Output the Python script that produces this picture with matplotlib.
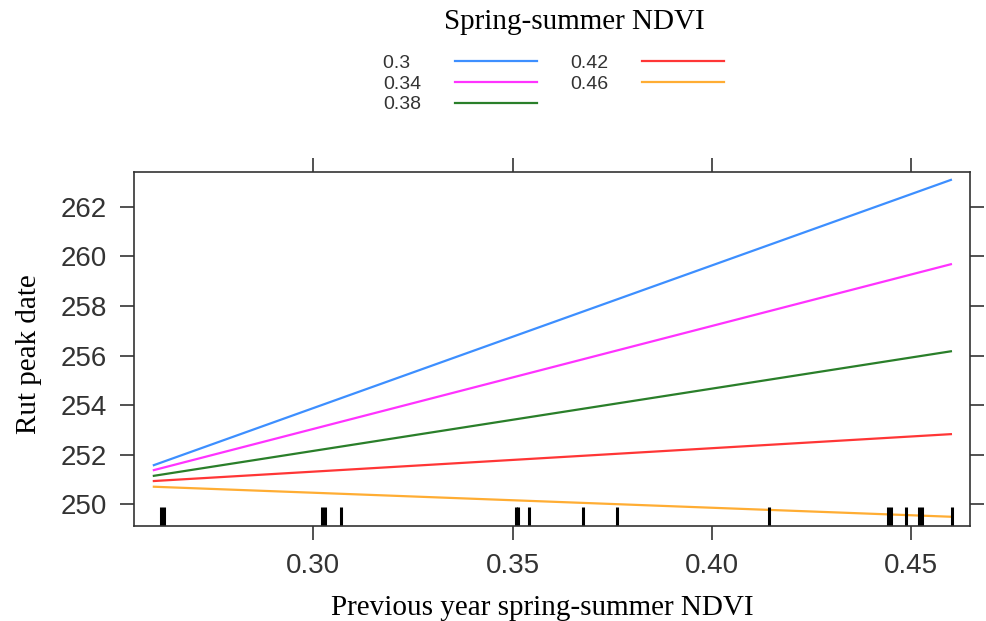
import matplotlib
matplotlib.use("Agg")
import matplotlib.pyplot as plt

# previous year spring-summer NDVI range covered by the fitted lines
prev_ndvi = [0.26, 0.46]

# spring-summer NDVI levels and fitted rut peak date at both ends
ndvi_levels = ["0.3", "0.34", "0.38", "0.42", "0.46"]
peak_0_30 = [251.58, 263.08]
peak_0_34 = [251.38, 259.68]
peak_0_38 = [251.15, 256.17]
peak_0_42 = [250.94, 252.83]
peak_0_46 = [250.71, 249.50]
series = [peak_0_30, peak_0_34, peak_0_38, peak_0_42, peak_0_46]

# observed previous-year NDVI values (rug)
rug_values = [0.2619, 0.2626, 0.3021, 0.3029, 0.3069, 0.3508, 0.3513, 0.3541,
              0.3678, 0.3762, 0.4144, 0.4442, 0.4450, 0.4487, 0.4519, 0.4527,
              0.4604]

x_ticks = [0.30, 0.35, 0.40, 0.45]
x_tick_labels = ["0.30", "0.35", "0.40", "0.45"]
y_ticks = [250, 252, 254, 256, 258, 260, 262]

colors = ["#3d8fff", "#ff33ff", "#2a7f2a", "#ff3636", "#ffad33"]

sans = ["Liberation Sans", "DejaVu Sans"]
serif = ["Liberation Serif", "DejaVu Serif"]

fig = plt.figure(figsize=(9.87, 6.21), dpi=100)
ax = fig.add_axes([0.1361, 0.1535, 0.8467, 0.5700])

lines = []
for lab, vals, col in zip(ndvi_levels, series, colors):
    ln, = ax.plot(prev_ndvi, vals, color=col, lw=1.6, label=lab)
    lines.append(ln)

ax.vlines(rug_values, 0, 0.054, color="black", lw=2.2,
          transform=ax.get_xaxis_transform())

ax.set_xlim(0.2551, 0.4648)
ax.set_ylim(249.14, 263.41)
ax.set_xticks(x_ticks)
ax.set_xticklabels(x_tick_labels)
ax.set_yticks(y_ticks)

for s in ax.spines.values():
    s.set_color("#333333")
    s.set_linewidth(1.2)

ax.tick_params(direction="out", length=10, width=1.2, pad=9.5,
               colors="#333333", labelsize=20,
               top=True, right=True, labeltop=False, labelright=False)
for t in ax.get_xticklabels() + ax.get_yticklabels():
    t.set_family(sans)

ax.set_xlabel("Previous year spring-summer NDVI", family=serif, fontsize=21)
ax.set_ylabel("Rut peak date", family=serif, fontsize=21)
ax.xaxis.set_label_coords(0.488, -0.197)
ax.yaxis.set_label_coords(-0.111, 0.486)

# key above the panel, lattice style: text first, then the line
fig.text(0.582, 0.985, "Spring-summer NDVI", family=serif, fontsize=21,
         ha="center", va="top")
padded = [lab if len(lab) == 4 else lab + "\u2007" for lab in ndvi_levels]
fig.legend(lines, padded, loc="upper left", bbox_to_anchor=(0.388, 0.912),
           ncol=2, markerfirst=False, frameon=False, borderpad=0,
           borderaxespad=0, handlelength=4.2, handletextpad=1.75,
           columnspacing=1.7, labelspacing=0.15,
           prop={"family": sans, "size": 14}, labelcolor="#333333")

fig.savefig("out.png", dpi=100)
